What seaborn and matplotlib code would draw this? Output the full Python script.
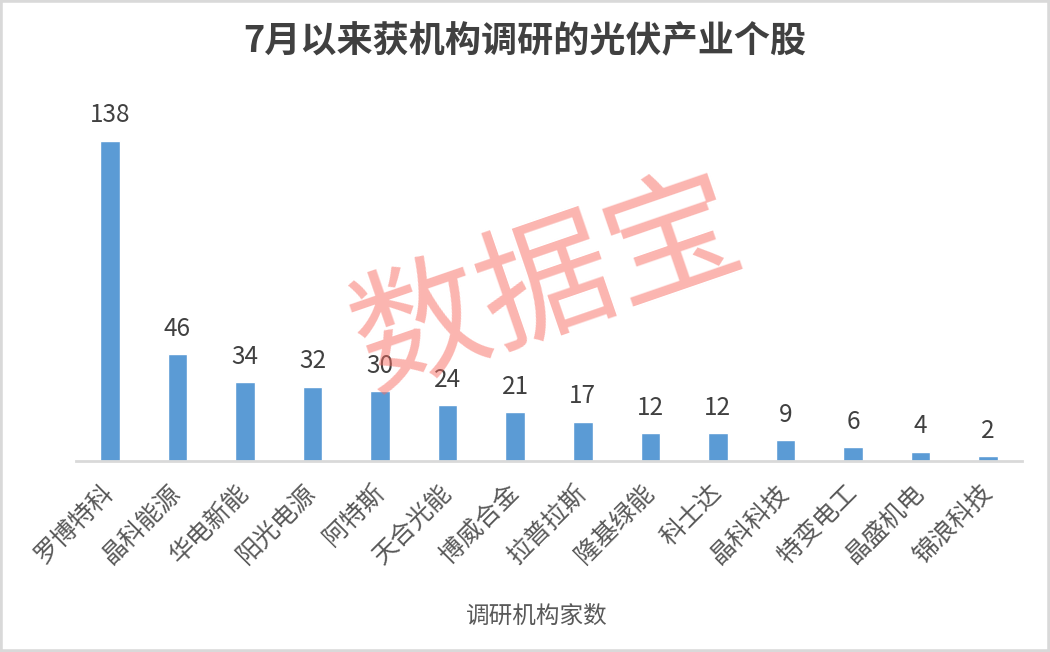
import matplotlib
matplotlib.use('Agg')
import matplotlib.pyplot as plt
import matplotlib.patches as mpatches
import seaborn as sns
import pandas as pd

stocks = ['罗博特科', '晶科能源', '华电新能', '阳光电源', '阿特斯', '天合光能', '博威合金',
          '拉普拉斯', '隆基绿能', '科士达', '晶科科技', '特变电工', '晶盛机电', '锦浪科技']
counts = [138, 46, 34, 32, 30, 24, 21, 17, 12, 12, 9, 6, 4, 2]

df = pd.DataFrame({'股票': stocks, '家数': counts})

sns.set_style('white')
plt.rcParams['font.family'] = ['Noto Sans CJK SC', 'DejaVu Sans']

fig = plt.figure(figsize=(10.5, 6.52), dpi=100)
ax = fig.add_axes([76 / 1050, 1 - 461 / 652, 946 / 1050, 361 / 652])

sns.barplot(data=df, x='股票', y='家数', color='#5B9BD5', saturation=1, width=0.29, ax=ax)
ax.set_xlim(-0.5, len(stocks) - 0.5)
ax.set_ylim(0, 138 * 361 / 320)

for i, v in enumerate(counts):
    ax.annotate(str(v), (i, v), xytext=(0, 9), textcoords='offset points',
                ha='center', va='bottom', fontsize=17.5, color='#404040')

ax.set_yticks([])
ax.set_ylabel('')
for s in ['left', 'right', 'top']:
    ax.spines[s].set_visible(False)
ax.spines['bottom'].set_color('#D9D9D9')
ax.spines['bottom'].set_linewidth(2)
ax.tick_params(axis='x', length=0, pad=20)
ax.set_xticks(range(len(stocks)))
ax.set_xticklabels(stocks, rotation=45, ha='right', va='center', rotation_mode='anchor',
                   fontsize=18, color='#595959')
ax.set_xlabel('调研机构家数', fontsize=17, color='#595959', labelpad=26, x=(537 - 76) / 946)

fig.text(0.5, 1 - 42 / 652, '7月以来获机构调研的光伏产业个股', ha='center', va='center',
         fontsize=26, fontweight='bold', color='#404040')

fig.text(548 / 1050, 1 - 287 / 652, '数据宝', ha='center', va='center', rotation=19,
         fontsize=96, color='#F76B61', alpha=0.5, zorder=10)

fig.patches.append(mpatches.Rectangle((0, 0), 1, 1, transform=fig.transFigure, fill=False,
                                      edgecolor='#D9D9D9', linewidth=4, zorder=20))

plt.savefig('out.png', dpi=100)
plt.close()
